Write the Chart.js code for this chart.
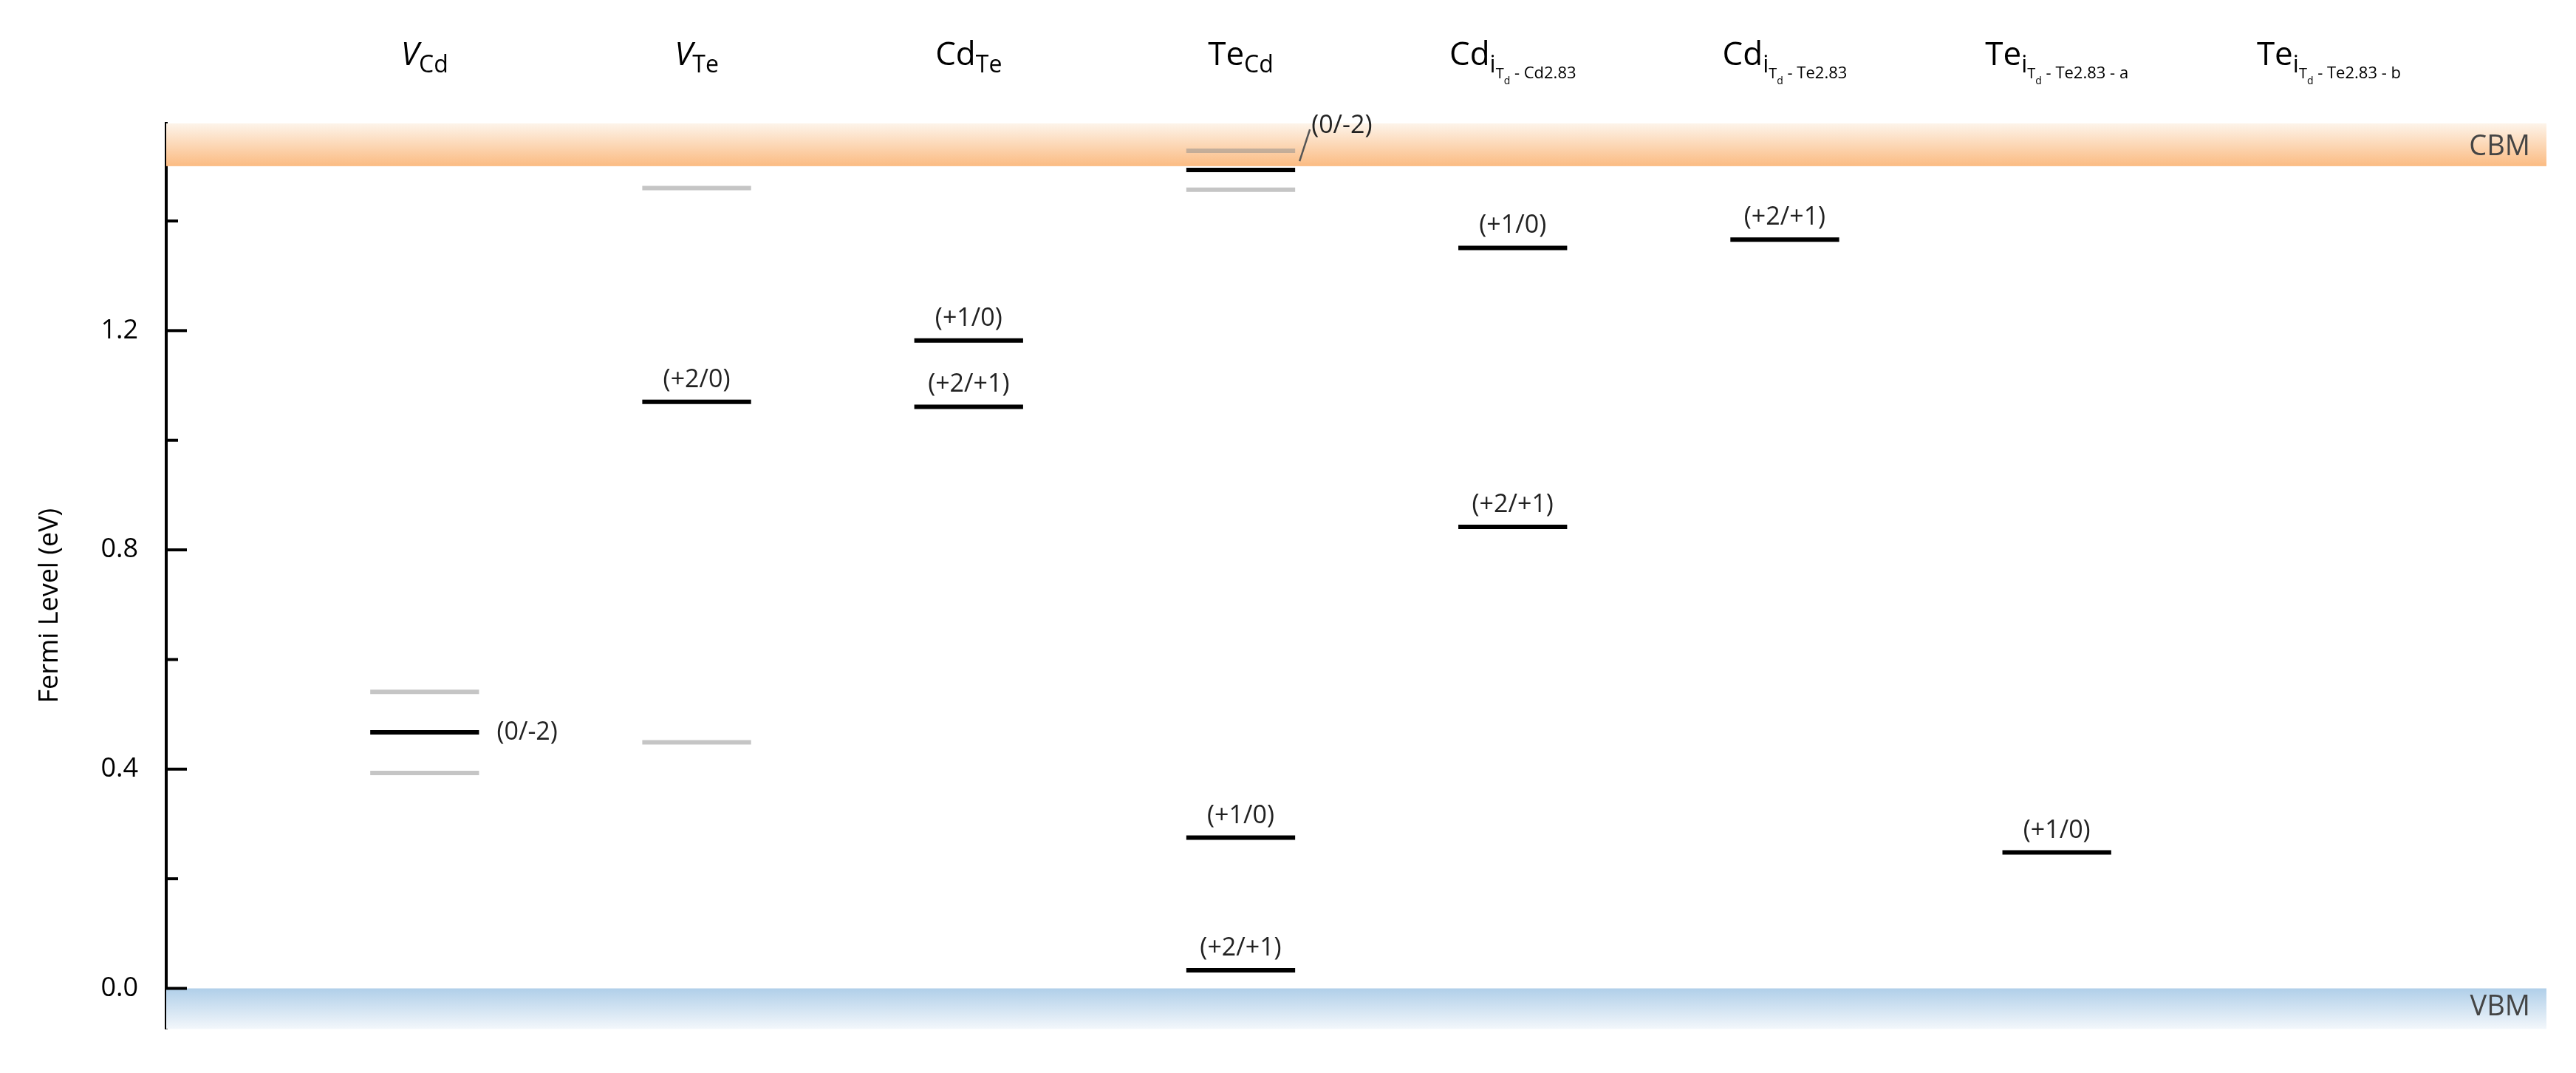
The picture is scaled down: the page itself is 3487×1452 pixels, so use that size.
<!DOCTYPE html>
<html><head><meta charset="utf-8">
<script src="https://cdn.jsdelivr.net/npm/chart.js@4"></script>
<style>html,body{margin:0;padding:0;background:#fff}#w{width:3487px;height:1452px}</style>
</head><body><div id="w"><canvas id="c"></canvas></div>
<script>
const categories = ["V_Cd","V_Te","Cd_Te","Te_Cd","Cd_i(Td-Cd2.83)","Cd_i(Td-Te2.83)","Te_i(Td-Te2.83-a)","Te_i(Td-Te2.83-b)"];
// charge transition levels (eV): category index, energy, label
const levelCat   = [0, 1, 2, 2, 3, 3, 3, 4, 4, 5, 6];
const levelE     = [0.467, 1.070, 1.182, 1.061, 1.493, 0.275, 0.033, 1.351, 0.842, 1.366, 0.248];
const levelLabel = ["(0/-2)", "(+2/0)", "(+1/0)", "(+2/+1)", "(0/-2)", "(+1/0)", "(+2/+1)", "(+1/0)", "(+2/+1)", "(+2/+1)", "(+1/0)"];
const levelLabelPos = ["right", "above", "above", "above", "slash", "above", "above", "above", "above", "above", "above"];
// secondary (grey) levels
const greyCat = [0, 0, 1, 1, 3, 3];
const greyE   = [0.541, 0.393, 1.460, 0.449, 1.528, 1.457];
const CBM = 1.5, VBM = 0.0;
const yTicks = [0.0, 0.4, 0.8, 1.2];
const yMinorTicks = [0.2, 0.6, 1.0, 1.4];

const HALF = 0.2;
const datasets = [];
greyE.forEach((e,i)=>datasets.push({data:[{x:greyCat[i]-HALF,y:e},{x:greyCat[i]+HALF,y:e}],borderColor:'rgba(140,140,140,0.5)',borderWidth:6,showLine:true,pointRadius:0}));
levelE.forEach((e,i)=>datasets.push({data:[{x:levelCat[i]-HALF,y:e},{x:levelCat[i]+HALF,y:e}],borderColor:'#000',borderWidth:6,showLine:true,pointRadius:0}));

const FONT = '"Open Sans", Lato, sans-serif';
const plug = {
  id:'deco',
  beforeDatasetsDraw(ch){
    const {ctx,chartArea:a,scales:{x,y}} = ch;
    ctx.save();
    let y1=y.getPixelForValue(CBM), y0=a.top;
    let g=ctx.createLinearGradient(0,y1,0,y0);
    g.addColorStop(0,'#fbbb82'); g.addColorStop(1,'#fdf4ea');
    ctx.fillStyle=g; ctx.fillRect(a.left,y0,a.right-a.left,y1-y0);
    y1=y.getPixelForValue(VBM); y0=a.bottom;
    g=ctx.createLinearGradient(0,y1,0,y0);
    g.addColorStop(0,'#b0cfe9'); g.addColorStop(1,'#f3f7fb');
    ctx.fillStyle=g; ctx.fillRect(a.left,y1,a.right-a.left,y0-y1);
    ctx.restore();
  },
  afterDatasetsDraw(ch){
    const {ctx,chartArea:a,scales:{x,y}} = ch;
    ctx.save();
    ctx.strokeStyle='#000'; ctx.lineWidth=4;
    yTicks.forEach(t=>{const p=y.getPixelForValue(t);ctx.beginPath();ctx.moveTo(a.left-2,p);ctx.lineTo(a.left+28,p);ctx.stroke();});
    yMinorTicks.forEach(t=>{const p=y.getPixelForValue(t);ctx.beginPath();ctx.moveTo(a.left-2,p);ctx.lineTo(a.left+16,p);ctx.stroke();});
    ctx.fillStyle='#444'; ctx.font='38px '+FONT; ctx.textAlign='right'; ctx.textBaseline='middle';
    ctx.fillText('CBM',a.right-22,y.getPixelForValue(1.535));
    ctx.fillText('VBM',a.right-22,y.getPixelForValue(-0.035));
    ctx.fillStyle='#222'; ctx.font='34px '+FONT;
    levelE.forEach((e,i)=>{
      const cx=x.getPixelForValue(levelCat[i]), py=y.getPixelForValue(e);
      const pos=levelLabelPos[i];
      if(pos==='above'){ctx.textAlign='center';ctx.textBaseline='alphabetic';ctx.fillText(levelLabel[i],cx,py-20);}
      else if(pos==='right'){ctx.textAlign='left';ctx.textBaseline='middle';ctx.fillText(levelLabel[i],x.getPixelForValue(levelCat[i]+HALF)+24,py);}
      else { const xe=x.getPixelForValue(levelCat[i]+HALF);
        ctx.strokeStyle='#555';ctx.lineWidth=2.5;ctx.beginPath();ctx.moveTo(xe+6,py-12);ctx.lineTo(xe+20,py-55);ctx.stroke();
        ctx.textAlign='left';ctx.textBaseline='alphabetic';ctx.fillText(levelLabel[i],xe+22,py-50);}
    });
    ctx.fillStyle='#000'; ctx.font='36px '+FONT; ctx.textAlign='center'; ctx.textBaseline='middle';
    ctx.translate(68,(a.top+a.bottom)/2+40); ctx.rotate(-Math.PI/2); ctx.fillText('Fermi Level (eV)',0,0);
    ctx.restore();
    ctx.save(); ctx.fillStyle='#000'; ctx.textBaseline='alphabetic';
    const base=88;
    const heads=[
      [['V',44,0,true],['Cd',32,10]],
      [['V',44,0,true],['Te',32,10]],
      [['Cd',44,0],['Te',32,10]],
      [['Te',44,0],['Cd',32,10]],
      [['Cd',44,0],['i',32,10],['T',20,18],['d',14,26],[' - Cd2.83',22,18]],
      [['Cd',44,0],['i',32,10],['T',20,18],['d',14,26],[' - Te2.83',22,18]],
      [['Te',44,0],['i',32,10],['T',20,18],['d',14,26],[' - Te2.83 - a',22,18]],
      [['Te',44,0],['i',32,10],['T',20,18],['d',14,26],[' - Te2.83 - b',22,18]]
    ];
    heads.forEach((parts,i)=>{
      let w=0; parts.forEach(p=>{ctx.font=(p[3]?'italic ':'')+p[1]+'px '+FONT; w+=ctx.measureText(p[0]).width;});
      let cx=x.getPixelForValue(i)-w/2; ctx.textAlign='left';
      parts.forEach(p=>{ctx.font=(p[3]?'italic ':'')+p[1]+'px '+FONT; ctx.fillText(p[0],cx,base+p[2]); cx+=ctx.measureText(p[0]).width;});
    });
    ctx.restore();
  }
};

new Chart(document.getElementById('c'),{
  type:'scatter',
  data:{datasets},
  options:{
    responsive:true,maintainAspectRatio:false,animation:false,
    layout:{padding:{top:167,right:40,bottom:24,left:0}},
    plugins:{legend:{display:false},tooltip:{enabled:false}},
    scales:{
      x:{type:'linear',min:-0.95,max:7.8,display:false},
      y:{min:-0.074,max:1.578,
        afterFit(s){s.width=225;},
        afterBuildTicks(s){s.ticks=yTicks.map(v=>({value:v}));},
        grid:{display:false,drawTicks:false},
        border:{display:true,color:'#000',width:4},
        ticks:{padding:38,color:'#000',font:{size:36,family:FONT},callback:v=>v.toFixed(1)}
      }
    }
  },
  plugins:[plug]
});
</script></body></html>
